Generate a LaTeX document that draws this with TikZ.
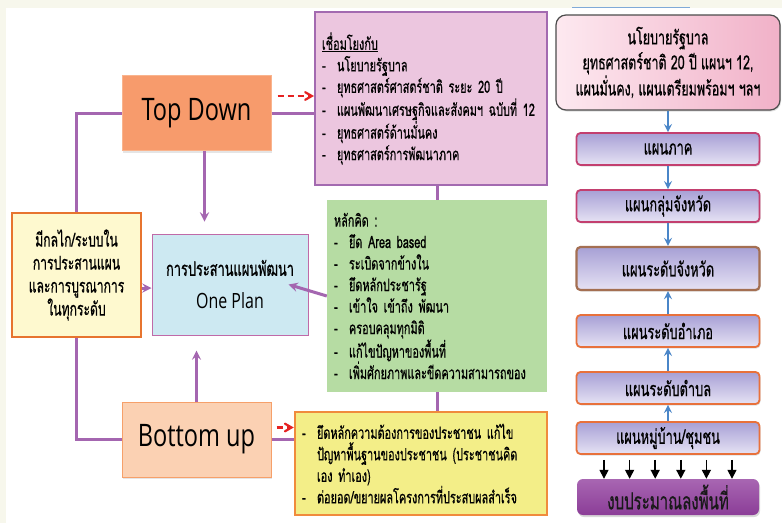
\documentclass[tikz,border=0pt]{standalone}
\usepackage{fontspec}
\setmainfont{Open Sans}
\newfontfamily\thai[Script=Thai,FakeStretch=0.64,FakeBold=0.6]{Loma}
\newfontfamily\titre[FakeStretch=0.76]{Open Sans}
\usepackage{tikz}
\usetikzlibrary{shapes}
\usetikzlibrary{arrows}
\usetikzlibrary{arrows.meta}
\usetikzlibrary{positioning}
\usetikzlibrary{shadows}
\definecolor{creme}{HTML}{F7F7EC}
\definecolor{trait}{HTML}{A466B0}
\definecolor{tirets}{HTML}{E52222}
\definecolor{tdfond}{HTML}{F79B6C}
\definecolor{tdbord}{HTML}{F9B48E}
\definecolor{bufond}{HTML}{FBD1B3}
\definecolor{bubord}{HTML}{F6A06A}
\definecolor{mkfond}{HTML}{FEF9CF}
\definecolor{mkbord}{HTML}{E7742F}
\definecolor{opfond}{HTML}{CDE9F2}
\definecolor{opbord}{HTML}{C06AA8}
\definecolor{lkfond}{HTML}{ECC6DF}
\definecolor{lkbord}{HTML}{A36AB0}
\definecolor{hkfond}{HTML}{B6DCA3}
\definecolor{ykfond}{HTML}{F3EE88}
\definecolor{ykbord}{HTML}{F08B3D}
\definecolor{rosea}{HTML}{FDE9F0}
\definecolor{roseb}{HTML}{F1B1C8}
\definecolor{lava}{HTML}{A7A0D5}
\definecolor{lavb}{HTML}{E6E2F4}
\definecolor{cramoisi}{HTML}{C33F6F}
\definecolor{orbord}{HTML}{E8713B}
\definecolor{pvfond}{HTML}{FBC28A}
\definecolor{pvbord}{HTML}{A46F52}
\definecolor{bgha}{HTML}{A866B2}
\definecolor{bgba}{HTML}{8B3D97}
\definecolor{bleu}{HTML}{4A86C8}
\newcommand{\puce}{\makebox[15pt][l]{-}}
\tikzstyle{approche}=[
        rectangle,
        minimum width=149pt,
        minimum height=75pt,
        inner sep=0pt,
        line width=1pt,
        font=\titre\fontsize{31}{34}\selectfont,
        drop shadow={opacity=0.2,shadow xshift=1pt,shadow yshift=-2pt}
]
\tikzstyle{cadre}=[rectangle,inner sep=7pt,align=left,font=\thai\fontsize{17}{21.5}\selectfont]
\tikzstyle{centre}=[rectangle,inner sep=0pt,align=center]
\tikzstyle{niveau}=[
        rectangle,
        rounded corners=4pt,
        line width=1.8pt,
        minimum width=183pt,
        minimum height=32pt,
        top color=lava,
        bottom color=lavb,
        font=\thai\fontsize{20}{22}\selectfont,
        drop shadow={opacity=0.25,shadow xshift=1pt,shadow yshift=-1.5pt}
]
\tikzstyle{lien}=[line width=3pt,draw=trait]
\tikzstyle{fleche}=[lien,->,>=stealth]
\tikzstyle{tiret}=[->,>=angle 60,line width=2.2pt,dash pattern=on 6pt off 4pt,draw=tirets]
\tikzstyle{bleue}=[->,>=stealth,line width=2.5pt,draw=bleu]
\tikzstyle{noire}=[-{Stealth[length=9pt,width=9pt,inset=0pt]},line width=1.5pt,shorten <=5pt]
\begin{document}
\begin{tikzpicture}[x=1pt,y=-1pt]
\useasboundingbox (0,0) rectangle (782,523);
\fill[creme] (0,0) rectangle (782,523);
\fill[white] (6,8) rectangle (782,523);
\draw[bleu!70,line width=0.8pt] (572,7.5) -- (690,7.5);
\node[approche,draw=tdbord,fill=tdfond] (td) at (196.5,113) {Top Down};
\node[approche,draw=bubord,fill=bufond] (bu) at (196.5,439.5) {Bottom up};
\node[centre,draw=mkbord,fill=mkfond,line width=1.8pt,minimum width=129pt,minimum height=124pt,font=\thai\fontsize{19}{23}\selectfont] (mk) at (76.5,275) {มีกลไก/ระบบใน\\การประสานแผน\\และการบูรณาการ\\ในทุกระดับ};
\node[centre,draw=opbord,fill=opfond,line width=1pt,minimum width=156pt,minimum height=101pt,font=\titre\fontsize{21}{33}\selectfont] (op) at (230,284.5) {{\thai\fontsize{20}{33}\selectfont การประสานแผนพัฒนา}\\One Plan};
\node[cadre,draw=lkbord,fill=lkfond,line width=2pt,text width=218pt,minimum height=173pt] (lk) at (431,98.5) {\underline{เชื่อมโยงกับ}\\
\puce นโยบายรัฐบาล\\
\puce ยุทธศาสตร์ศาสตร์ชาติ ระยะ 20 ปี\\
\puce แผนพัฒนาเศรษฐกิจและสังคมฯ ฉบับที่ 12\\
\puce ยุทธศาสตร์ด้านมั่นคง\\
\puce ยุทธศาสตร์การพัฒนาภาค};
\node[cadre,fill=hkfond,text width=206pt,minimum height=192pt] (hk) at (437,296) {หลักคิด :\\
\puce ยึด Area based\\
\puce ระเบิดจากข้างใน\\
\puce ยึดหลักประชารัฐ\\
\puce เข้าใจ เข้าถึง พัฒนา\\
\puce ครอบคลุมทุกมิติ\\
\puce แก้ไขปัญหาของพื้นที่\\
\puce เพิ่มศักยภาพและขีดความสามารถของ};
\node[cadre,draw=ykbord,fill=ykfond,line width=2.5pt,text width=238pt,minimum height=103pt] (yk) at (421,463.5) {\puce ยึดหลักความต้องการของประชาชน แก้ไข\\
\hspace*{15pt}ปัญหาพื้นฐานของประชาชน (ประชาชนคิด\\
\hspace*{15pt}เอง ทำเอง)\\
\puce ต่อยอด/ขยายผลโครงการที่ประสบผลสำเร็จ};
%Colonnededroite
\node[centre,draw=black!70,line width=1.2pt,rounded corners=10pt,left color=rosea,right color=roseb,minimum width=224pt,minimum height=95pt,font=\thai\fontsize{19.5}{25}\selectfont,drop shadow={opacity=0.25,shadow xshift=1pt,shadow yshift=-1.5pt}] (r0) at (668,62.5) {นโยบายรัฐบาล\\ยุทธศาสตร์ชาติ 20 ปี แผนฯ 12,\\แผนมั่นคง, แผนเตรียมพร้อมฯ ฯลฯ};
\node[niveau,draw=cramoisi] (r1) at (668,149) {แผนภาค};
\node[niveau,draw=cramoisi] (r2) at (668,206) {แผนกลุ่มจังหวัด};
\node[niveau,draw=pvbord,line width=2.2pt,fill=pvfond,minimum height=43pt] (r3) at (668,268.5) {แผนระดับจังหวัด};
\node[niveau,draw=orbord] (r4) at (668,331) {แผนระดับอำเภอ};
\node[niveau,draw=orbord] (r5) at (668,388) {แผนระดับตำบล};
\node[niveau,draw=orbord] (r6) at (668,438) {แผนหมู่บ้าน/ชุมชน};
\node[centre,rounded corners=6pt,top color=bgha,bottom color=bgba,minimum width=182pt,minimum height=36pt,text=black!90,font=\thai\fontsize{23.5}{25}\selectfont,drop shadow={opacity=0.3,shadow xshift=1pt,shadow yshift=-2pt}] (r7) at (668,497) {งบประมาณลงพื้นที่};
%Placementdesliens
\draw[lien] (td.west) -| (mk.north);
\draw[lien] (mk.south) |- (bu.west);
\draw[lien] (td.east) -- (td.east -| lk.west);
\draw[lien] (bu.east) -- (bu.east -| yk.west);
\draw[lien] (hk.north) -- (hk.north |- lk.south);
\draw[lien] (hk.south) -- (hk.south |- yk.north);
\draw[fleche,shorten >=12pt] ([xshift=8pt]td.south) -- ([xshift=8pt]td.south |- op.north);
\draw[fleche,shorten >=15pt] (bu.north) -- (bu.north |- op.south);
\draw[fleche] ([yshift=-13pt]mk.east) -- ([yshift=-13pt]mk.east -| op.west);
\draw[fleche] (hk.west) -- ([xshift=-20pt]op.east);
\draw[tiret] ([xshift=6pt,yshift=17pt]td.east) -- ([yshift=17pt]td.east -| lk.west);
\draw[tiret] ([xshift=5pt,yshift=12pt]bu.east) -- ([yshift=12pt]bu.east -| yk.west);
\draw[bleue] (r0) -- (r1);
\draw[bleue] (r1) -- (r2);
\draw[bleue] (r2) -- (r3);
\draw[bleue] (r4) -- (r3);
\draw[bleue] (r5) -- (r4);
\draw[bleue] (r6) -- (r5);
\draw[noire] ([xshift=-64pt]r6.south) -- ([xshift=-64pt]r7.north);
\draw[noire] ([xshift=-38.4pt]r6.south) -- ([xshift=-38.4pt]r7.north);
\draw[noire] ([xshift=-12.8pt]r6.south) -- ([xshift=-12.8pt]r7.north);
\draw[noire] ([xshift=12.8pt]r6.south) -- ([xshift=12.8pt]r7.north);
\draw[noire] ([xshift=38.4pt]r6.south) -- ([xshift=38.4pt]r7.north);
\draw[noire] ([xshift=64pt]r6.south) -- ([xshift=64pt]r7.north);
\end{tikzpicture}
\end{document}
